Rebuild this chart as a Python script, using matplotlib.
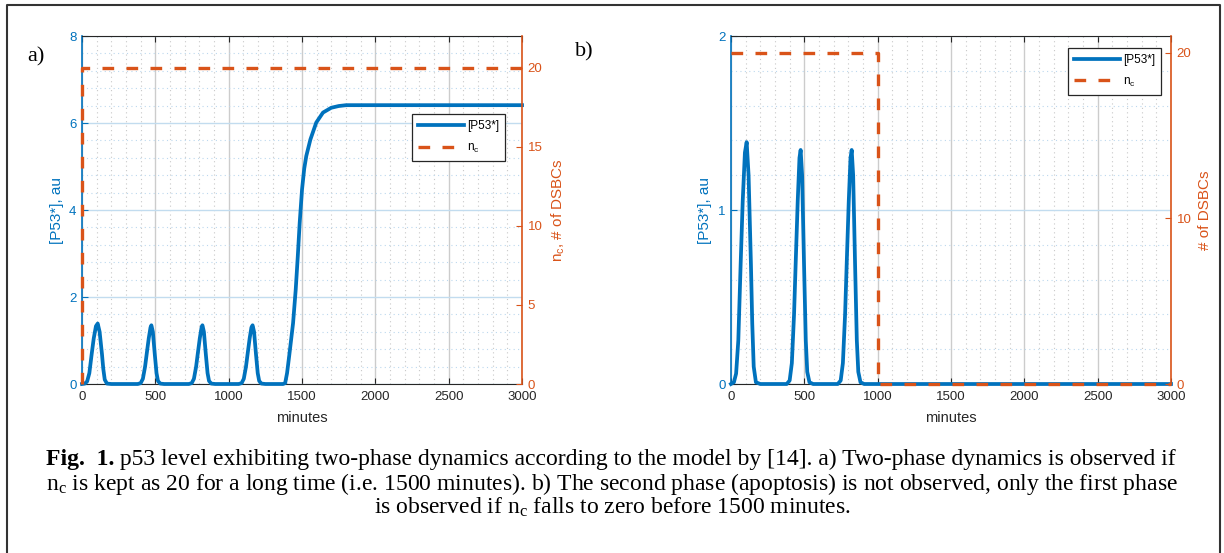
import matplotlib
matplotlib.use("Agg")
from matplotlib import pyplot as plt
from matplotlib.lines import Line2D
from matplotlib.ticker import MultipleLocator

plt.rcParams['font.family'] = ['Liberation Sans', 'DejaVu Sans']

BLUE = '#0072BD'
ORANGE = '#D95319'
DARK = '#262626'

# p53 level, panel a (minutes, au)
t_a = [0, 20, 35, 50, 66, 80, 95, 107, 120, 136, 145, 155, 170, 200,
       380, 400, 415, 430, 441, 455, 467, 473, 483, 496, 508, 518, 533, 560,
       728, 748, 763, 778, 789, 803, 815, 821, 831, 844, 856, 866, 881, 908,
       1068, 1088, 1103, 1118, 1129, 1143, 1155, 1163, 1173, 1186, 1198, 1208, 1223, 1250,
       1370, 1385, 1398, 1412, 1425, 1439, 1457, 1471, 1484, 1500, 1515, 1529, 1557,
       1597, 1643, 1699, 1750, 1801, 3000]
p53_a = [0, 0.01, 0.06, 0.25, 0.69, 1.05, 1.33, 1.39, 1.2, 0.69, 0.35, 0.1, 0.01, 0,
         0, 0.02, 0.12, 0.40, 0.69, 1.05, 1.30, 1.35, 1.2, 0.69, 0.25, 0.07, 0.01, 0,
         0, 0.02, 0.12, 0.40, 0.69, 1.05, 1.30, 1.35, 1.2, 0.69, 0.25, 0.07, 0.01, 0,
         0, 0.02, 0.12, 0.40, 0.69, 1.05, 1.30, 1.35, 1.2, 0.69, 0.25, 0.07, 0.01, 0,
         0, 0.02, 0.25, 0.63, 1.0, 1.40, 2.17, 2.93, 3.70, 4.47, 4.95, 5.24, 5.62,
         6.01, 6.24, 6.35, 6.39, 6.41, 6.41]

# p53 level, panel b
t_b = [0, 20, 35, 50, 66, 80, 95, 107, 120, 136, 145, 155, 170, 200,
       380, 400, 415, 430, 441, 455, 467, 475, 485, 498, 510, 520, 535, 560,
       728, 748, 763, 778, 789, 803, 815, 823, 833, 846, 858, 868, 883, 908,
       1000, 3000]
p53_b = [0, 0.01, 0.06, 0.25, 0.69, 1.05, 1.33, 1.39, 1.2, 0.69, 0.35, 0.1, 0.01, 0,
         0, 0.02, 0.12, 0.40, 0.69, 1.05, 1.30, 1.345, 1.2, 0.69, 0.25, 0.07, 0.01, 0,
         0, 0.02, 0.12, 0.40, 0.69, 1.05, 1.30, 1.345, 1.2, 0.69, 0.25, 0.07, 0.01, 0,
         0, 0]

# number of DSBCs n_c
nc_t_a = [0, 0, 3000]
nc_a = [0, 20, 20]
nc_t_b = [0, 1000, 1000, 3000]
nc_b = [20, 20, 0, 0]

x_ticks = [0, 500, 1000, 1500, 2000, 2500, 3000]

fig = plt.figure(figsize=(12.24, 5.53), dpi=100)


def panel(left, t, p, nct, nc, ylim, yticks, ylim2, yticks2, rlabel, leg_xy):
    ax = fig.add_axes([left, 0.3056, 0.3595, 0.6293])
    l1, = ax.plot(t, p, color=BLUE, lw=2.7, clip_on=False, zorder=3)
    ax.set_xlim(0, 3000)
    ax.set_ylim(*ylim)
    ax.set_xticks(x_ticks)
    ax.set_yticks(yticks)
    ax.xaxis.set_minor_locator(MultipleLocator(100))
    ax.yaxis.set_minor_locator(MultipleLocator(yticks[1] / 5))
    ax.xaxis.grid(True, which='major', color='#cccccc', lw=1.0)
    ax.xaxis.grid(True, which='minor', color='#c8c8c8', ls=(0, (1, 3)), lw=0.8)
    ax.yaxis.grid(True, which='major', color='#c2dcef', lw=1.0)
    ax.yaxis.grid(True, which='minor', color='#bcd8ee', ls=(0, (1, 3)), lw=0.8)
    ax.tick_params(which='minor', length=0)
    ax.tick_params(axis='x', direction='in', top=True, colors=DARK, labelsize=9.5, length=4, pad=5)
    ax.tick_params(axis='y', direction='in', right=True, colors=BLUE, labelsize=9.5, length=4, pad=4)
    ax.spines['left'].set_color(BLUE)
    ax.spines['left'].set_linewidth(1.2)
    ax.spines['top'].set_color(DARK)
    ax.spines['bottom'].set_color(DARK)
    ax.spines['right'].set_visible(False)
    ax.set_xlabel('minutes', fontsize=10.5, color=DARK, labelpad=6)
    ax.set_ylabel('[P53*], au', fontsize=11, color=BLUE, labelpad=4)

    ax2 = ax.twinx()
    l2, = ax2.plot(nct, nc, color=ORANGE, lw=2.4, ls=(0, (3.5, 3.7)),
                   dash_capstyle='butt', clip_on=False, zorder=4)
    ax2.set_ylim(*ylim2)
    ax2.set_yticks(yticks2)
    ax2.tick_params(axis='y', direction='in', colors=ORANGE, labelsize=9.5, length=4, pad=4)
    for s in ['left', 'top', 'bottom']:
        ax2.spines[s].set_visible(False)
    ax2.spines['right'].set_color(ORANGE)
    ax2.spines['right'].set_linewidth(1.2)
    ax2.set_ylabel(rlabel, fontsize=11, color=ORANGE, labelpad=5)

    leg = ax2.legend([l1, l2], ['[P53*]', r'$\mathregular{n_c}$'], loc='upper left',
                     bbox_to_anchor=leg_xy, fontsize=8.5, frameon=True, fancybox=False,
                     framealpha=1, edgecolor=DARK, handlelength=3.9, handletextpad=0.25,
                     borderpad=0.5, labelspacing=0.8, borderaxespad=0)
    leg.get_frame().set_linewidth(0.9)
    return ax, ax2


ax_a, _ = panel(0.0670, t_a, p53_a, nc_t_a, nc_a, (0, 8), [0, 2, 4, 6, 8],
                (0, 22), [0, 5, 10, 15, 20], r'$\mathregular{n_c}$, # of DSBCs', (0.75, 0.775))
ax_b, _ = panel(0.5972, t_b, p53_b, nc_t_b, nc_b, (0, 2), [0, 1, 2],
                (0, 21), [0, 10, 20], '# of DSBCs', (0.766, 0.965))

fig.text(27 / 1224, 1 - 57 / 553, 'a)', family='Liberation Serif', fontsize=16, va='center')
fig.text(575 / 1224, 1 - 52 / 553, 'b)', family='Liberation Serif', fontsize=16, va='center')

# caption
cap = dict(family='Liberation Serif', fontsize=17, color='black')
t1 = fig.text(46 / 1224, 1 - 465 / 553, 'Fig.  1.', fontweight='bold', va='baseline', **cap)
ax_a.annotate(' p53 level exhibiting two-phase dynamics according to the model by [14]. '
              'a) Two-phase dynamics is observed if',
              xy=(1, 0), xycoords=t1, va='bottom', ha='left', annotation_clip=False, **cap)
fig.text(46 / 1224, 1 - 490 / 553,
         r'$\mathregular{n_c}$ is kept as 20 for a long time (i.e. 1500 minutes). b) The second '
         'phase (apoptosis) is not observed, only the first phase', va='baseline', **cap)
fig.text(0.5, 1 - 514 / 553,
         r'is observed if $\mathregular{n_c}$ falls to zero before 1500 minutes.',
         ha='center', va='baseline', **cap)

# frame around the figure
xl, xr, yt = 7 / 1224, 1220 / 1224, 1 - 5 / 553
fig.add_artist(Line2D([xl, xl, xr, xr], [0, yt, yt, 0], transform=fig.transFigure,
                      color='#333333', lw=1.5))

fig.savefig('out.png', dpi=100)
